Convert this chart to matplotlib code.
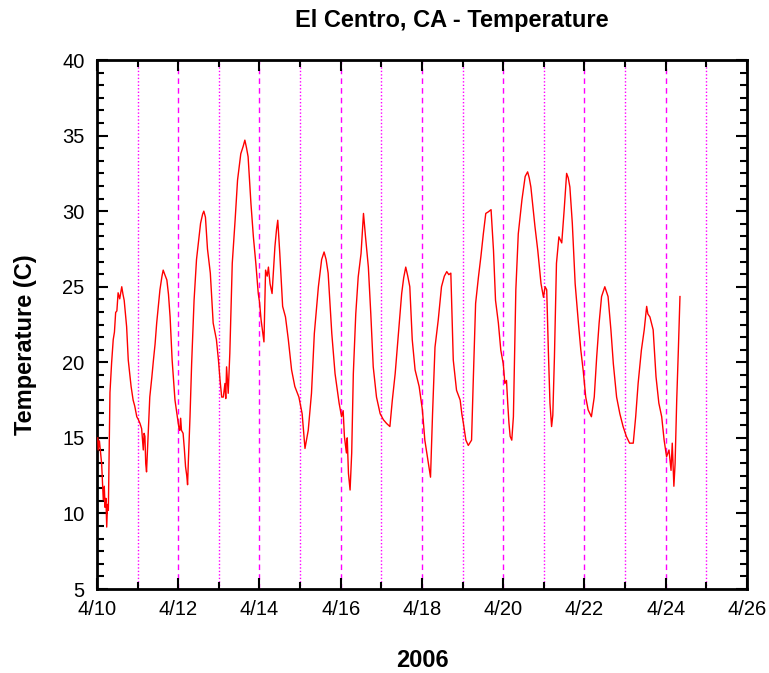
import matplotlib
matplotlib.use('Agg')
import matplotlib.pyplot as plt
from matplotlib.ticker import MultipleLocator, FixedLocator, FixedFormatter

# Day of April 2006 (fractional) and temperature in C
day = [10.02, 10.03, 10.06, 10.115, 10.155, 10.18, 10.20, 10.22, 10.24, 10.26, 10.28,
       10.32, 10.36, 10.40, 10.43, 10.46, 10.49, 10.52, 10.56, 10.61, 10.64, 10.67,
       10.73, 10.77, 10.84, 10.89, 10.93, 10.98, 11.02, 11.06, 11.10, 11.14, 11.16,
       11.18, 11.20, 11.22, 11.24, 11.26, 11.30, 11.35, 11.39, 11.43, 11.47, 11.52,
       11.55, 11.60, 11.63, 11.67, 11.72, 11.76, 11.80, 11.85, 11.92, 11.99, 12.02,
       12.04, 12.06, 12.08, 12.12, 12.15, 12.18, 12.21, 12.23, 12.25, 12.29, 12.33,
       12.39, 12.45, 12.50, 12.55, 12.60, 12.63, 12.67, 12.72, 12.79, 12.86, 12.94,
       12.99, 13.03, 13.07, 13.11, 13.15, 13.17, 13.19, 13.23, 13.27, 13.33, 13.40,
       13.46, 13.54, 13.60, 13.64, 13.68, 13.72, 13.79, 13.85, 13.91, 13.97, 14.00,
       14.04, 14.08, 14.11, 14.15, 14.19, 14.22, 14.26, 14.31, 14.38, 14.42, 14.45,
       14.50, 14.57, 14.64, 14.71, 14.79, 14.87, 14.97, 15.05, 15.09, 15.12, 15.16,
       15.20, 15.28, 15.35, 15.45, 15.53, 15.59, 15.64, 15.69, 15.78, 15.86, 15.96,
       16.02, 16.06, 16.09, 16.14, 16.16, 16.19, 16.23, 16.27, 16.31, 16.37, 16.43,
       16.50, 16.56, 16.61, 16.68, 16.74, 16.80, 16.88, 16.97, 17.05, 17.13, 17.21,
       17.27, 17.34, 17.42, 17.50, 17.55, 17.60, 17.65, 17.70, 17.76, 17.83, 17.93,
       18.01, 18.07, 18.16, 18.21, 18.26, 18.32, 18.40, 18.48, 18.55, 18.61, 18.66,
       18.71, 18.77, 18.85, 18.94, 18.98, 19.02, 19.08, 19.14, 19.22, 19.26, 19.32,
       19.39, 19.45, 19.51, 19.57, 19.63, 19.70, 19.76, 19.81, 19.88, 19.94, 20.00,
       20.04, 20.08, 20.11, 20.14, 20.17, 20.21, 20.25, 20.31, 20.37, 20.46, 20.54,
       20.60, 20.64, 20.68, 20.78, 20.85, 20.93, 20.99, 21.03, 21.07, 21.11, 21.15,
       21.19, 21.22, 21.26, 21.31, 21.37, 21.44, 21.50, 21.56, 21.60, 21.64, 21.70,
       21.77, 21.85, 21.91, 21.97, 22.03, 22.09, 22.17, 22.24, 22.30, 22.36, 22.42,
       22.50, 22.58, 22.65, 22.71, 22.79, 22.87, 22.95, 23.03, 23.11, 23.20, 23.26,
       23.32, 23.40, 23.47, 23.53, 23.56, 23.61, 23.69, 23.76, 23.83, 23.90, 23.96,
       24.02, 24.08, 24.13, 24.16, 24.20, 24.23, 24.27, 24.31, 24.35]
temp = [15.0, 14.2, 14.8, 13.3, 10.9, 11.8, 10.4, 11.0, 9.1, 10.6, 10.2,
        18.0, 19.95, 21.5, 22.0, 23.3, 23.4, 24.6, 24.2, 25.0, 24.5, 24.1,
        22.35, 20.15, 18.4, 17.5, 17.1, 16.4, 16.2, 15.95, 15.6, 14.2, 15.3,
        15.1, 13.3, 12.75, 14.0, 15.1, 17.7, 19.0, 20.15, 21.2, 22.6, 24.0,
        24.8, 25.7, 26.1, 25.8, 25.45, 24.5, 23.0, 20.15, 17.5, 16.2, 15.6,
        15.5, 16.3, 15.5, 15.3, 14.3, 13.1, 12.5, 11.9, 13.5, 16.4, 19.9,
        24.1, 26.8, 28.0, 29.2, 29.8, 30.0, 29.6, 27.5, 25.9, 22.6, 21.5,
        20.15, 18.8, 17.7, 17.7, 18.6, 17.6, 19.7, 17.95, 20.6, 26.55, 29.4,
        32.05, 33.8, 34.3, 34.7, 34.2, 33.6, 30.5, 28.3, 26.55, 24.55, 24.0,
        22.8, 22.0, 21.35, 26.1, 25.7, 26.3, 25.2, 24.55, 27.65, 28.8, 29.4,
        27.2, 23.7, 23.0, 21.5, 19.5, 18.4, 17.7, 16.6, 15.3, 14.3, 14.9,
        15.5, 17.95, 21.9, 25.0, 26.8, 27.3, 26.8, 25.9, 21.9, 19.25, 17.3,
        16.4, 16.8, 15.1, 14.0, 15.0, 12.65, 11.55, 14.0, 19.25, 23.2, 25.65,
        27.2, 29.85, 28.3, 26.3, 23.2, 19.7, 17.7, 16.6, 16.2, 15.95, 15.75,
        17.5, 19.25, 21.9, 24.55, 25.6, 26.3, 25.7, 25.0, 21.5, 19.5, 18.4,
        16.85, 14.85, 13.3, 12.4, 16.6, 21.0, 22.8, 25.0, 25.7, 26.0, 25.8,
        25.9, 20.15, 18.15, 17.5, 16.6, 15.95, 14.85, 14.5, 14.85, 18.6, 23.9,
        25.65, 27.0, 28.5, 29.85, 29.95, 30.1, 27.4, 24.1, 22.6, 20.8, 19.9,
        18.6, 18.8, 17.3, 16.0, 15.1, 14.85, 16.4, 24.8, 28.5, 30.75, 32.3,
        32.6, 32.2, 31.6, 29.0, 27.4, 25.2, 24.3, 25.0, 24.8, 20.8, 17.3,
        15.75, 16.5, 20.35, 26.55, 28.3, 27.9, 30.1, 32.5, 32.2, 31.6, 29.2,
        25.2, 22.6, 20.8, 19.4, 17.7, 16.85, 16.4, 17.7, 20.35, 22.6, 24.35,
        25.0, 24.35, 22.15, 19.9, 17.7, 16.6, 15.75, 15.1, 14.65, 14.65, 16.4,
        18.6, 20.8, 22.15, 23.7, 23.2, 23.0, 22.15, 19.05, 17.3, 16.4, 14.85,
        13.75, 14.2, 12.85, 14.65, 11.8, 13.3, 17.5, 20.8, 24.35]

tick_days = [10, 12, 14, 16, 18, 20, 22, 24, 26]
tick_labels = ['4/10', '4/12', '4/14', '4/16', '4/18', '4/20', '4/22', '4/24', '4/26']
grid_days = list(range(11, 26))

plt.rcParams['font.family'] = ['Liberation Sans', 'DejaVu Sans']

fig = plt.figure(figsize=(7.69, 6.73), dpi=100)
ax = fig.add_axes([0.1261, 0.1248, 0.8453, 0.786])

# vertical day lines: dashed on even days, dotted on odd days
for d in grid_days:
    ls = (0, (4, 3)) if d % 2 == 0 else (0, (1, 1.5))
    ax.axvline(d, color='#ff00ff', lw=1.0, ls=ls, zorder=1)

ax.plot(day, temp, color='red', lw=1.0, zorder=3)

ax.set_xlim(10, 26)
ax.set_ylim(5, 40)
ax.xaxis.set_major_locator(FixedLocator(tick_days))
ax.xaxis.set_major_formatter(FixedFormatter(tick_labels))
ax.xaxis.set_minor_locator(MultipleLocator(1))
ax.yaxis.set_major_locator(MultipleLocator(5))
ax.yaxis.set_minor_locator(MultipleLocator(5 / 6))

ax.tick_params(which='both', direction='in', top=True, right=True, width=1.5)
ax.tick_params(which='major', length=8, labelsize=14.5)
ax.tick_params(axis='x', which='major', pad=8)
ax.tick_params(axis='y', which='major', pad=9)
ax.tick_params(which='minor', length=5)
for s in ax.spines.values():
    s.set_linewidth(2)

fig.text(0.588, 0.970, 'El Centro, CA - Temperature', ha='center', va='center',
         fontsize=17, fontweight='bold')
fig.text(0.033, 0.488, 'Temperature (C)', ha='center', va='center', rotation=90,
         fontsize=17, fontweight='bold')
fig.text(0.549, 0.019, '2006', ha='center', va='center', fontsize=17, fontweight='bold')

fig.savefig('out.png', dpi=100)
